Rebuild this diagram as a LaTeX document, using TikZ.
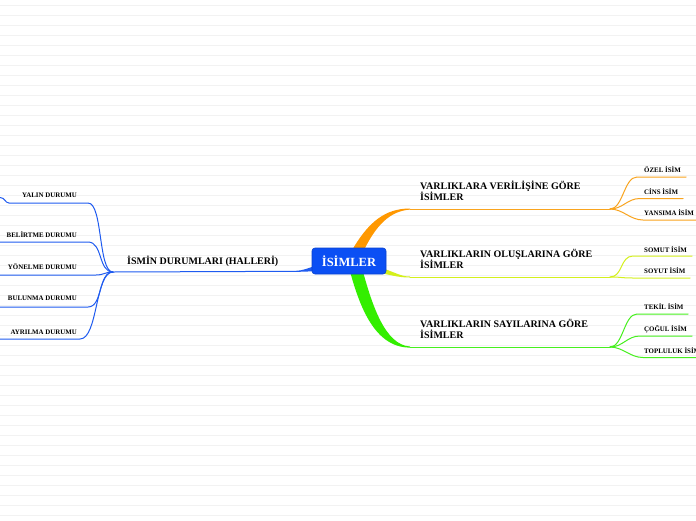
\documentclass[tikz,border=0pt]{standalone}
\usepackage{fontspec}
\setmainfont{Liberation Serif}
\definecolor{lblue}{HTML}{1F5BF0}
\definecolor{rootblue}{HTML}{0B4FF4}
\definecolor{lorange}{HTML}{F9A41E}
\definecolor{dorange}{HTML}{FF9800}
\definecolor{lyellow}{HTML}{D4F01C}
\definecolor{lgreen}{HTML}{46F01E}
\definecolor{dgreen}{HTML}{33EE00}
\begin{document}
\begin{tikzpicture}[x=1pt,y=-1pt,
 bgline/.style={draw=black!5,line width=0.6pt},
 mainlbl/.style={font=\fontsize{10}{11}\selectfont\bfseries,inner sep=0pt,align=left,anchor=south west,text depth=0pt},
 leafR/.style={font=\fontsize{6.9}{8}\selectfont\bfseries,inner sep=0pt,anchor=base west},
 leafL/.style={font=\fontsize{6.9}{8}\selectfont\bfseries,inner sep=0pt,anchor=base east},
 link/.style={line width=1pt,line cap=round},
 rootbox/.style={fill=rootblue,draw=rootblue!85!black,line width=0.6pt,rounded corners=3pt,minimum width=74pt,minimum height=26pt,inner sep=0pt,text=white,font=\fontsize{12.5}{14}\selectfont\bfseries}
]
\useasboundingbox (0,0) rectangle (696,520);
\fill[white] (0,0) rectangle (696,520);
\foreach \k in {0,...,51} {\draw[bgline] (0,5+10*\k) -- (696,5+10*\k);}

% ---------- thick branches from root ----------
\fill[dorange] (351,252) .. controls (368,222) and (385,208.5) .. (410,208.5) -- (410,209.6) .. controls (390,211) and (376,225) .. (363,252) -- cycle;
\fill[lyellow] (380,267.5) .. controls (395,272) and (400,276.5) .. (410,276.5) -- (410,277.5) .. controls (400,277.5) and (395,276) .. (380,273) -- cycle;
\fill[dgreen] (349,268) .. controls (358,300) and (372,347.6) .. (410,347.6) -- (410,346.5) .. controls (385,345) and (372,305) .. (362,268) -- cycle;
\fill[lblue] (316,265.5) .. controls (306,269) and (302,270.6) .. (296,270.8) -- (296,271.8) .. controls (305,271.7) .. (316,271) -- cycle;

% ---------- root ----------
\node[rootbox] (root) at (349,261) {İSİMLER};

% ---------- main branch labels and underlines ----------
\coordinate (Oa) at (410,209); \coordinate (Ohub) at (610,209);
\coordinate (Ya) at (410,277); \coordinate (Yhub) at (610,277);
\coordinate (Ga) at (410,347); \coordinate (Ghub) at (610,347);
\coordinate (La) at (296,271.3); \coordinate (Lhub) at (113,272);

\draw[link,lorange] (Oa) -- (Ohub);
\draw[link,lyellow] (Ya) -- (Yhub);
\draw[link,lgreen] (Ga) -- (Ghub);
\draw[link,lblue] (La) -- (Lhub);

\node[mainlbl] (varA) at (420,200.5) {VARLIKLARA VERİLİŞİNE GÖRE\\İSİMLER};
\node[mainlbl] (varB) at (420,269) {VARLIKLARIN OLUŞLARINA GÖRE\\İSİMLER};
\node[mainlbl] (varC) at (420,338.5) {VARLIKLARIN SAYILARINA GÖRE\\İSİMLER};
\node[font=\fontsize{10}{11}\selectfont\bfseries,inner sep=0pt,anchor=base west] (ismin) at (127,264) {İSMİN DURUMLARI (HALLERİ)};

% ---------- orange children ----------
\coordinate (o1a) at (637,177); \coordinate (o1b) at (686,177);
\coordinate (o2a) at (640,198.5); \coordinate (o2b) at (683,198.5);
\coordinate (o3a) at (643,220); \coordinate (o3b) at (696,220);
\draw[link,lorange] (Ohub) .. controls +(13,0) and +(-13,0) .. (o1a) -- (o1b);
\draw[link,lorange] (Ohub) .. controls +(13,0) and +(-13,0) .. (o2a) -- (o2b);
\draw[link,lorange] (Ohub) .. controls +(13,0) and +(-13,0) .. (o3a) -- (o3b);
\node[leafR] (ozel) at (644,172) {ÖZEL İSİM};
\node[leafR] (cins) at (644,194) {CİNS İSİM};
\node[leafR] (yans) at (644,215) {YANSIMA İSİM};

% ---------- yellow children ----------
\coordinate (y1a) at (633,256); \coordinate (y1b) at (692,256);
\coordinate (y2a) at (633,278); \coordinate (y2b) at (690,278);
\draw[link,lyellow] (Yhub) .. controls +(13,0) and +(-13,0) .. (y1a) -- (y1b);
\draw[link,lyellow] (Yhub) .. controls +(13,0) and +(-13,0) .. (y2a) -- (y2b);
\node[leafR] (somut) at (644,252) {SOMUT İSİM};
\node[leafR] (soyut) at (644,273) {SOYUT İSİM};

% ---------- green children ----------
\coordinate (g1a) at (637,314); \coordinate (g1b) at (688,314);
\coordinate (g2a) at (640,336); \coordinate (g2b) at (692,336);
\coordinate (g3a) at (643,357.5); \coordinate (g3b) at (696,357.5);
\draw[link,lgreen] (Ghub) .. controls +(13,0) and +(-13,0) .. (g1a) -- (g1b);
\draw[link,lgreen] (Ghub) .. controls +(13,0) and +(-13,0) .. (g2a) -- (g2b);
\draw[link,lgreen] (Ghub) .. controls +(13,0) and +(-13,0) .. (g3a) -- (g3b);
\node[leafR] (tekil) at (644,309) {TEKİL İSİM};
\node[leafR] (cogul) at (644,331) {ÇOĞUL İSİM};
\node[leafR] (toplu) at (644,353) {TOPLULUK İSİM};

% ---------- blue children ----------
\coordinate (bX) at (0,197.5);
\coordinate (b1a) at (9,203); \coordinate (b1b) at (88,203);
\coordinate (b2a) at (0,242); \coordinate (b2b) at (88,242);
\coordinate (b3a) at (0,275); \coordinate (b3b) at (96,275);
\coordinate (b4a) at (0,307); \coordinate (b4b) at (88,307);
\coordinate (b5a) at (0,339); \coordinate (b5b) at (80,339);
\draw[link,lblue] (bX) .. controls +(5,0) and +(-4,0) .. (b1a) -- (b1b) .. controls +(15,0) and +(-15,0) .. (Lhub);
\draw[link,lblue] (b2a) -- (b2b) .. controls +(15,0) and +(-15,0) .. (Lhub);
\draw[link,lblue] (b3a) -- (b3b) .. controls +(8,0) and +(-8,0) .. (Lhub);
\draw[link,lblue] (b4a) -- (b4b) .. controls +(15,0) and +(-15,0) .. (Lhub);
\draw[link,lblue] (b5a) -- (b5b) .. controls +(18,0) and +(-18,0) .. (Lhub);
\node[leafL] (yalin) at (77,197) {YALIN DURUMU};
\node[leafL] (belirtme) at (77,237) {BELİRTME DURUMU};
\node[leafL] (yonelme) at (77,269) {YÖNELME DURUMU};
\node[leafL] (bulunma) at (77,300.5) {BULUNMA DURUMU};
\node[leafL] (ayrilma) at (77,334) {AYRILMA DURUMU};
\end{tikzpicture}
\end{document}
